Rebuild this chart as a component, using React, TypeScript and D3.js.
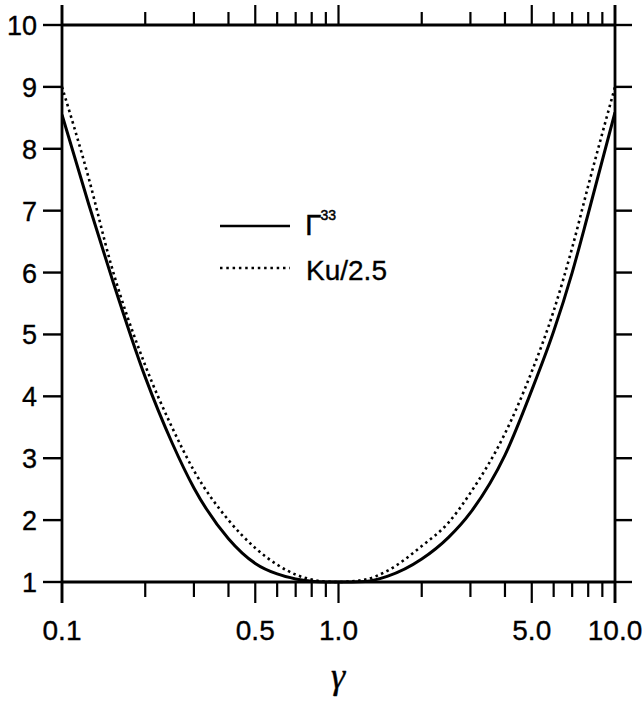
import React from "react";
import * as d3 from "d3";

const gammaValues = [0.1, 0.125, 0.15, 0.2, 0.25, 0.3, 0.4, 0.5, 0.6, 0.7, 0.8, 0.9, 1, 1.25, 1.5, 2, 2.5, 3, 4, 5, 6, 7, 8, 10];
const gamma33Values = [8.55, 7.1, 5.97, 4.31, 3.25, 2.52, 1.7, 1.3, 1.13, 1.05, 1.013, 1.002, 1.0, 1.01, 1.09, 1.37, 1.72, 2.12, 3.05, 4.1, 5.05, 6.0, 6.95, 8.59];
const kuValues = [9.0, 7.52, 6.15, 4.5, 3.5, 2.8, 2.0, 1.55, 1.28, 1.12, 1.04, 1.005, 1.0, 1.04, 1.18, 1.58, 1.96, 2.44, 3.4, 4.4, 5.38, 6.4, 7.4, 9.0];

const xTickValues = [0.1, 0.2, 0.3, 0.4, 0.5, 0.6, 0.7, 0.8, 0.9, 1, 2, 3, 4, 5, 6, 7, 8, 9, 10];
const xMajorTicks = [0.1, 0.5, 1, 5, 10];
const xTickLabels = ["0.1", "0.5", "1.0", "5.0", "10.0"];
const yTickValues = [1, 2, 3, 4, 5, 6, 7, 8, 9, 10];

const legendLabels = ["Γ", "33", "Ku/2.5"];
const xAxisLabel = "γ";

export default function App() {
  const W = 643, H = 701;
  const left = 62, right = 615, top = 25, bottom = 582;
  const x = d3.scaleLog().domain([0.1, 10]).range([left, right]);
  const y = d3.scaleLinear().domain([1, 10]).range([bottom, top]);

  const line = d3
    .line<number>()
    .x((_, i) => x(gammaValues[i]))
    .y((d) => y(d))
    .curve(d3.curveMonotoneX);

  const font = "'Liberation Sans', Arial, Helvetica, sans-serif";
  const sw = 2.8;
  const ts = { stroke: "#000", strokeWidth: 0.35 };

  return (
    <svg width={W} height={H} style={{ position: "absolute", left: 0, top: 0, background: "#fff" }}>
      <defs>
        <clipPath id="plotClip">
          <rect x={left} y={top - 2} width={right - left} height={bottom - top + 4} />
        </clipPath>
      </defs>
      <g clipPath="url(#plotClip)">
        <path d={line(kuValues) || ""} fill="none" stroke="#000" strokeWidth={2.6} strokeDasharray="2.5 3.5" />
        <path d={line(gamma33Values) || ""} fill="none" stroke="#000" strokeWidth={3} />
      </g>
      <line x1={left} x2={left} y1={top - 20} y2={bottom + 21} stroke="#000" strokeWidth={sw} />
      <line x1={right} x2={right} y1={top - 20} y2={bottom + 21} stroke="#000" strokeWidth={sw} />
      <line x1={left} x2={right} y1={top} y2={top} stroke="#000" strokeWidth={sw} />
      <line x1={left} x2={right} y1={bottom} y2={bottom} stroke="#000" strokeWidth={sw} />
      {xTickValues.map((t) => {
        const major = xMajorTicks.includes(t);
        const px = x(t);
        return (
          <g key={"xt" + t}>
            <line x1={px} x2={px} y1={bottom} y2={bottom + (major ? 21 : 15)} stroke="#000" strokeWidth={2.2} />
            <line x1={px} x2={px} y1={top} y2={top - (major ? 20 : 13)} stroke="#000" strokeWidth={2.2} />
          </g>
        );
      })}
      {xMajorTicks.map((t, i) => (
        <text key={"xl" + t} x={x(t)} y={640} textAnchor="middle" fontFamily={font} fontSize={28} {...ts}>
          {xTickLabels[i]}
        </text>
      ))}
      {yTickValues.map((t) => (
        <g key={"yt" + t}>
          <line x1={left - 19} x2={left} y1={y(t)} y2={y(t)} stroke="#000" strokeWidth={2.4} />
          <line x1={right} x2={right + 17} y1={y(t)} y2={y(t)} stroke="#000" strokeWidth={2.4} />
          <text x={37} y={y(t) + 10} textAnchor="end" fontFamily={font} fontSize={27} {...ts}>
            {t}
          </text>
        </g>
      ))}
      <line x1={220} x2={290} y1={226} y2={226} stroke="#000" strokeWidth={2.6} />
      <text x={305} y={235} fontFamily={font} fontSize={30} {...ts}>
        {legendLabels[0]}
        <tspan fontSize={14} dx={-1} dy={-15} strokeWidth={0.5}>{legendLabels[1]}</tspan>
      </text>
      <line x1={220} x2={290} y1={268} y2={268} stroke="#000" strokeWidth={2.4} strokeDasharray="2.5 3.8" />
      <text x={306} y={280} fontFamily={font} fontSize={28} {...ts}>
        {legendLabels[2]}
      </text>
      <text x={338} y={688} textAnchor="middle" fontFamily="'Liberation Serif', 'Times New Roman', serif" fontStyle="italic" fontSize={36} {...ts}>
        {xAxisLabel}
      </text>
    </svg>
  );
}
